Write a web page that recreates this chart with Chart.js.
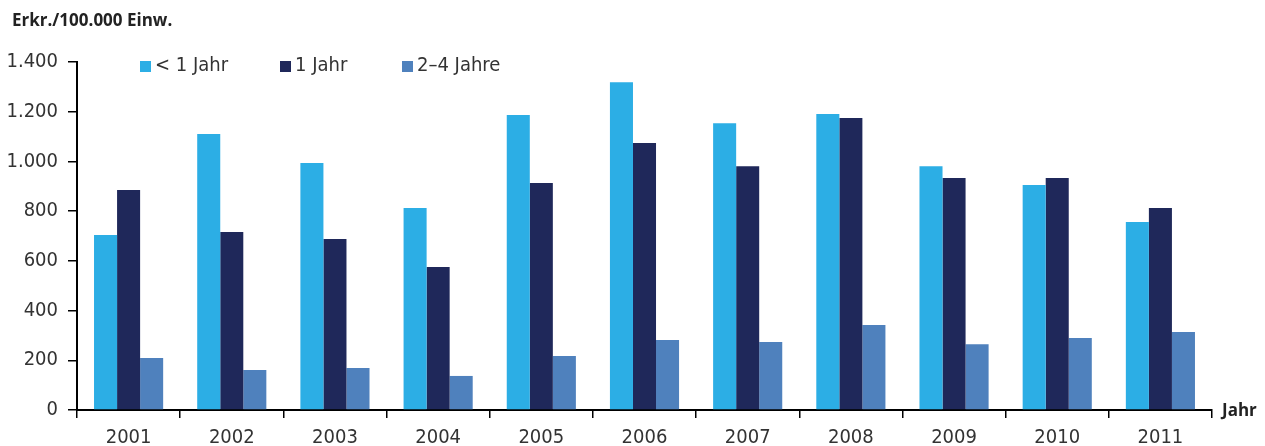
<!DOCTYPE html>
<html><head><meta charset="utf-8">
<script src="https://cdn.jsdelivr.net/npm/chart.js@4/dist/chart.umd.min.js"></script>
<style>html,body{margin:0;padding:0;background:#fff;}#wrap{width:1265px;height:446px;position:relative;}</style>
</head><body><div id="wrap"><canvas id="c" width="1265" height="446"></canvas></div>
<script>
const categories = ['2001','2002','2003','2004','2005','2006','2007','2008','2009','2010','2011'];
const seriesLabels = ['< 1 Jahr','1 Jahr','2–4 Jahre'];
const under1 = [704,1110,994,813,1187,1319,1154,1191,981,905,756];
const age1 = [885,716,688,575,913,1074,981,1175,933,933,813];
const age2to4 = [209,161,169,137,217,282,274,342,265,290,314];
const yTicks = [0,200,400,600,800,1000,1200,1400];
const colors = ['#2CAEE5','#1F285A','#4F81BD'];
const FONT = "'Liberation Sans Narrow','DejaVu Sans Condensed',sans-serif";
const TXT = '#333333';

const overlay = {
  id:'overlay',
  afterDraw(chart){
    const ctx = chart.ctx;
    ctx.save();
    ctx.fillStyle = '#222';
    ctx.font = "bold 17px 'Open Sans','DejaVu Sans',sans-serif";
    ctx.textBaseline = 'middle';
    ctx.textAlign = 'left';
    ctx.fillText('Erkr./100.000 Einw.', 12, 21);
    ctx.fillText('Jahr', 1222, 411);
    // legend
    const xs = [140, 280, 402];
    ctx.font = '20px ' + FONT;
    chart.data.datasets.forEach((ds,i)=>{
      ctx.fillStyle = ds.backgroundColor;
      ctx.fillRect(xs[i], 61, 11, 11);
      ctx.fillStyle = TXT;
      ctx.fillText(ds.label, xs[i]+15, 66);
    });
    ctx.restore();
  }
};

new Chart(document.getElementById('c'), {
  type:'bar',
  data:{
    labels:categories,
    datasets:[
      {label:seriesLabels[0], data:under1, backgroundColor:colors[0]},
      {label:seriesLabels[1], data:age1, backgroundColor:colors[1]},
      {label:seriesLabels[2], data:age2to4, backgroundColor:colors[2]}
    ]
  },
  options:{
    responsive:false, animation:false,
    layout:{padding:{top:62,right:53,left:0,bottom:0}},
    datasets:{bar:{categoryPercentage:0.67, barPercentage:1.0}},
    plugins:{legend:{display:false}, tooltip:{enabled:false}},
    scales:{
      x:{
        grid:{display:true, drawOnChartArea:false, drawTicks:true, tickLength:8, color:'#000', lineWidth:1.5, offset:true},
        border:{display:true, color:'#000', width:2},
        ticks:{color:TXT, font:{family:FONT, size:20}, padding:8},
        afterFit(s){ s.height = 36; }
      },
      y:{
        min:0, max:1400,
        afterBuildTicks(s){ s.ticks = yTicks.map(v=>({value:v})); },
        grid:{display:true, drawOnChartArea:false, drawTicks:true, tickLength:9, color:'#000', lineWidth:1.5},
        border:{display:true, color:'#000', width:2},
        ticks:{color:TXT, font:{family:FONT, size:20}, padding:10,
          callback:(v)=>v.toLocaleString('de-DE')},
        afterFit(s){ s.width = 77; }
      }
    }
  },
  plugins:[overlay]
});
</script></body></html>
